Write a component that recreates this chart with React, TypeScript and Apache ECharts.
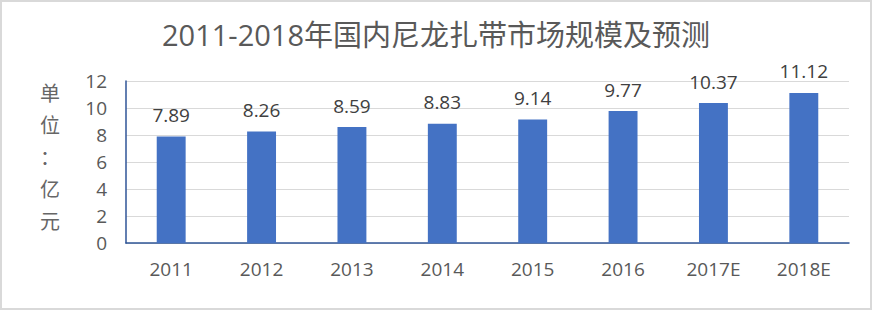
import React, { useEffect, useRef } from "react";
import * as echarts from "echarts";

const categories = ["2011", "2012", "2013", "2014", "2015", "2016", "2017E", "2018E"];
const values = [7.89, 8.26, 8.59, 8.83, 9.14, 9.77, 10.37, 11.12];
const titleText = "2011-2018年国内尼龙扎带市场规模及预测";
const unitText = "单\n位\n：\n亿\n元";

const FONT = "'Open Sans', 'Noto Sans CJK SC', sans-serif";

export default function App() {
  const ref = useRef<HTMLDivElement>(null);
  useEffect(() => {
    document.body.style.margin = "0";
    const chart = echarts.init(ref.current!, null, { renderer: "svg" });
    chart.setOption({
      animation: false,
      backgroundColor: "#ffffff",
      textStyle: { fontFamily: FONT },
      title: {
        text: titleText,
        left: "center",
        top: 15,
        textStyle: { fontSize: 29, fontWeight: "normal", color: "#595959", fontFamily: FONT },
      },
      graphic: [
        {
          type: "rect",
          shape: { x: 1, y: 1, width: 870, height: 308 },
          style: { fill: "none", stroke: "#D9D9D9", lineWidth: 2 },
          silent: true,
        },
        {
          type: "text",
          left: 40,
          top: 76,
          style: {
            text: unitText,
            fontSize: 20,
            lineHeight: 32,
            fill: "#666666",
            fontFamily: "'Noto Sans CJK SC', sans-serif",
            align: "center",
          },
        },
      ],
      grid: { left: 126, right: 23, top: 81, bottom: 67, containLabel: false },
      xAxis: {
        type: "category",
        data: categories,
        axisLine: { show: true, lineStyle: { color: "#2F5597", width: 1.5 } },
        axisTick: { show: false },
        axisLabel: { color: "#595959", fontSize: 19, margin: 16, fontFamily: FONT },
      },
      yAxis: {
        type: "value",
        min: 0,
        max: 12,
        interval: 2,
        axisLine: { show: true, lineStyle: { color: "#2F5597", width: 1.5 } },
        axisTick: { show: false },
        axisLabel: { color: "#595959", fontSize: 19, margin: 19, fontFamily: FONT },
        splitLine: { lineStyle: { color: "#D9D9D9", width: 1 } },
      },
      series: [
        {
          type: "bar",
          data: values,
          barWidth: "32%",
          itemStyle: { color: "#4472C4" },
          label: {
            show: true,
            position: "top",
            distance: 12,
            color: "#404040",
            fontSize: 19,
            fontFamily: FONT,
          },
        },
      ],
    });
    return () => chart.dispose();
  }, []);
  return <div ref={ref} style={{ width: 872, height: 310 }} />;
}
